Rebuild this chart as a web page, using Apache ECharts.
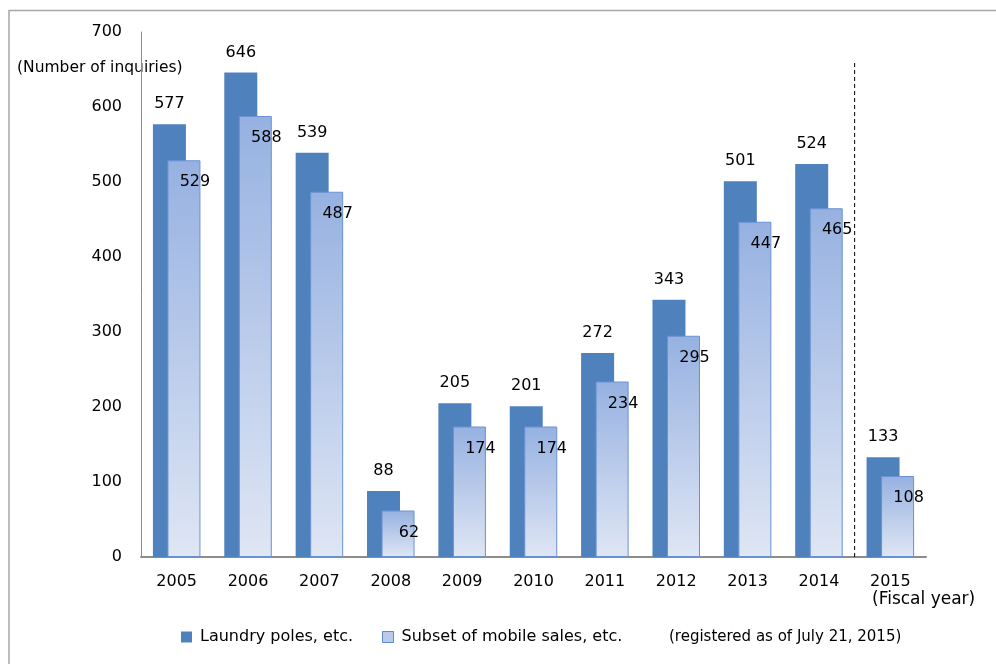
<!DOCTYPE html>
<html>
<head>
<meta charset="utf-8">
<script src="https://cdn.jsdelivr.net/npm/echarts@6/dist/echarts.min.js"></script>
<style>
html,body{margin:0;padding:0;background:#fff;}
#chart{width:996px;height:664px;}
</style>
</head>
<body>
<div id="chart"></div>
<script>
var years = ['2005','2006','2007','2008','2009','2010','2011','2012','2013','2014','2015'];
var laundryPoles = [577, 646, 539, 88, 205, 201, 272, 343, 501, 524, 133];
var mobileSales = [529, 588, 487, 62, 174, 174, 234, 295, 447, 465, 108];
var seriesNames = ['Laundry poles, etc.', 'Subset of mobile sales, etc.'];
var yTicks = [0, 100, 200, 300, 400, 500, 600, 700];
var dividerAt = 10;      // boundary between 2014 and 2015 categories
var dividerTop = 660;

var FONT = 'DejaVu Sans';
var chart = echarts.init(document.getElementById('chart'));

var lightGradient = new echarts.graphic.LinearGradient(0, 0, 0, 1, [
  {offset: 0, color: '#96b1e1'},
  {offset: 1, color: '#dfe6f4'}
]);

chart.setOption({
  animation: false,
  textStyle: {fontFamily: FONT},
  grid: {left: 141, right: 70, top: 32, bottom: 107, containLabel: false},
  legend: {
    left: 176, top: 624,
    itemWidth: 11, itemHeight: 11, itemGap: 29,
    textStyle: {fontFamily: FONT, fontSize: 16, color: '#000', padding: [0, 0, 0, 3]},
    data: [
      {name: seriesNames[0], icon: 'rect', itemStyle: {color: '#4f81bd', borderWidth: 0}},
      {name: seriesNames[1], icon: 'rect', itemStyle: {color: '#b8cbec', borderColor: '#5f8bd0', borderWidth: 1}}
    ]
  },
  xAxis: [{
    type: 'category',
    data: years,
    axisLine: {lineStyle: {color: '#8c8c8c', width: 2}},
    axisTick: {show: false},
    axisLabel: {fontFamily: FONT, fontSize: 16, color: '#000', margin: 17}
  }, {
    type: 'value', min: 0, max: years.length, show: false
  }],
  yAxis: {
    type: 'value', min: yTicks[0], max: yTicks[yTicks.length - 1], interval: 100,
    axisLine: {show: true, lineStyle: {color: '#8c8c8c', width: 1}},
    axisTick: {show: false},
    splitLine: {show: false},
    axisLabel: {fontFamily: FONT, fontSize: 16, color: '#000', margin: 19}
  },
  series: [{
    name: seriesNames[0],
    type: 'bar',
    data: laundryPoles,
    barWidth: 33,
    barGap: '-56%',
    itemStyle: {color: '#4f81bd'},
    label: {show: true, position: 'top', distance: 12, fontFamily: FONT, fontSize: 16, color: '#000'}
  }, {
    name: seriesNames[1],
    type: 'bar',
    data: mobileSales,
    barWidth: 33,
    itemStyle: {color: lightGradient, borderColor: '#6a92d2', borderWidth: 1},
    label: {show: true, position: 'insideTop', offset: [11, 9], fontFamily: FONT, fontSize: 16, color: '#000'}
  }, {
    name: 'divider',
    type: 'line',
    xAxisIndex: 1,
    data: [[dividerAt, 0], [dividerAt, dividerTop]],
    symbol: 'none',
    silent: true,
    lineStyle: {color: '#000', width: 1, type: [4, 3]},
    z: 5
  }],
  graphic: [
    {type: 'rect', shape: {x: 9, y: 10.5, width: 1000, height: 700}, style: {fill: 'none', stroke: '#a6a6a6', lineWidth: 1.5}, silent: true, z: -1},
    {type: 'text', left: 17, top: 60, style: {text: '(Number of inquiries)', font: '15.5px "DejaVu Sans"', fill: '#000'}},
    {type: 'text', left: 872, top: 591, style: {text: '(Fiscal year)', font: '17px "DejaVu Sans"', fill: '#000'}},
    {type: 'text', left: 669, top: 630, style: {text: '(registered as of July 21, 2015)', font: '15px "DejaVu Sans"', fill: '#000'}}
  ]
});
</script>
</body>
</html>
